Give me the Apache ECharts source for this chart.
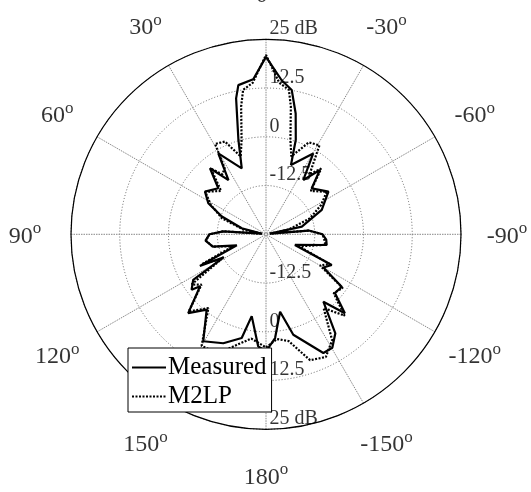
<!DOCTYPE html>
<html>
<head>
<meta charset="utf-8">
<script src="https://cdn.jsdelivr.net/npm/echarts@6/dist/echarts.min.js"></script>
<style>
  html, body { margin: 0; padding: 0; background: #fff; }
  #chart { width: 531px; height: 492px; }
</style>
</head>
<body>
<div id="chart"></div>
<script>
// Radiation pattern, angle in degrees (counter-clockwise from broadside), gain in dB
const measuredAngles = [-180, -175, -169.7, -164.8, -154.2, -149.7, -145, -139.6, -135, -130.4, -124.7, -120, -115, -110.2, -100, -95, -90, -85, -81,
  -77.9, -66.4, -55.6, -44.8, -40, -34.5, -30.3, -19.8, -17.5, -13.8, -10.1, -5.8, 0,
  4.7, 10.5, 12.4, 16.3, 20.2, 30.5, 34.7, 40.3, 46, 55, 61.7, 68, 76, 81,
  86, 90, 96, 103, 110.6, 115.6, 118.5, 122, 126.7, 128.2, 135.4, 141.8, 149.6, 158.6, 166.8, 170.1, 176, 180];
const measuredDb = [5, 1.7, -4.8, 1.7, 8.8, 8.7, 6, -2.3, 3.6, -1.8, -1.4, -8, -6.4, -17.1, -9.2, -9.5, -10.5, -14, -24,
  -15.6, -9.4, -5.6, -8.4, -3.5, -8.1, -1.0, -6.1, 0.4, 6.9, 12.6, 14.7, 20.5,
  14.9, 13.9, 10.7, 0.2, -7.0, -0.9, -8.1, -2.8, -8.0, -5.9, -8.2, -12.8, -18.6, -24,
  -14, -10.5, -9.4, -11, -17, -6.2, -12.7, -3, -1.2, -3.5, 3.4, -0.4, 6.8, 5.0, 2.3, -3.7, 3.8, 5];

const m2lpAngles = [-180, -174, -168, -160.7, -154, -148, -142, -136, -131, -125, -120, -115, -110, -100, -95, -90, -85, -81,
  -78, -70, -62, -55, -46, -40, -36, -31, -25, -18, -14.5, -11, -9, -5, 0,
  5, 9, 11, 14.5, 18, 23.9, 29.4, 32, 36, 40, 46, 55, 62, 70, 78, 81,
  86, 90, 96, 103, 110, 115, 119, 124, 128, 135, 142, 150, 158, 166, 172, 180];
const m2lpDb = [4, 2, 3, 9.2, 10, 7, -1, 4, -2, -1, -9, -7, -16, -9.5, -10, -10.5, -14, -24,
  -19, -13, -9, -6, -9, -3, -6, 1.6, 1.0, -4, 0, 8.4, 12.5, 14, 21,
  14, 12.5, 8.4, 0, -4, 1.0, 1.6, -5, -6, -3, -9, -6, -9, -13, -19, -24,
  -14, -10.5, -9.5, -11, -16, -7, -12, -2, -4, 3, -1, 8, 8, 4, 2, 4];

// Tick labels
const angleTicks = [0, 30, 60, 90, 120, 150, 180, -150, -120, -90, -60, -30];
const radiusTicks = [-12.5, 0, 12.5, 25];

const FONT = 'Liberation Serif';
const CENTER = [266, 234.3];

const toPairs = (angles, values) => angles.map((a, i) => [values[i], a]);

const radiusLabelData = [];
radiusTicks.forEach(v => { radiusLabelData.push([v, 0]); radiusLabelData.push([v, 180]); });

const chart = echarts.init(document.getElementById('chart'), null, { renderer: 'canvas' });

chart.setOption({
  animation: false,
  backgroundColor: '#fff',
  polar: [
    { center: CENTER, radius: 195 },
    { center: CENTER, radius: 241 }
  ],
  angleAxis: [
    {
      polarIndex: 0, type: 'value', min: 0, max: 360, interval: 30,
      startAngle: 90, clockwise: false,
      axisLine: { lineStyle: { color: '#000', width: 1.2 } },
      axisTick: { show: false },
      axisLabel: { show: false },
      splitLine: { lineStyle: { color: '#888', width: 1, type: [1.5, 1] } }
    },
    {
      polarIndex: 1, type: 'value', min: 0, max: 360, startAngle: 90, clockwise: false,
      show: false
    }
  ],
  radiusAxis: [
    {
      polarIndex: 0, min: -25, max: 25, interval: 12.5,
      axisLine: { show: false }, axisTick: { show: false }, axisLabel: { show: false },
      splitLine: { lineStyle: { color: '#666', width: 1, type: [1, 2] } }
    },
    { polarIndex: 1, min: 0, max: 1, show: false }
  ],
  legend: {
    data: ['Measured', 'M2LP'],
    orient: 'vertical',
    left: 128, top: 348,
    padding: [7, 5, 3, 3],
    itemGap: 4,
    itemWidth: 34, itemHeight: 14,
    backgroundColor: '#fff',
    borderColor: '#000', borderWidth: 1, borderRadius: 0,
    itemStyle: { color: 'transparent', opacity: 0, borderWidth: 0 },
    textStyle: { fontFamily: FONT, fontSize: 25, color: '#000', padding: [0, 0, 0, -3] }
  },
  series: [
    {
      name: 'Measured', type: 'line', coordinateSystem: 'polar', polarIndex: 0,
      data: toPairs(measuredAngles, measuredDb),
      symbol: 'none', smooth: false, clip: false,
      lineStyle: { color: '#000', width: 2.2, type: 'solid' },
      itemStyle: { color: '#000' }, z: 3
    },
    {
      name: 'M2LP', type: 'line', coordinateSystem: 'polar', polarIndex: 0,
      data: toPairs(m2lpAngles, m2lpDb),
      symbol: 'none', smooth: false, clip: false,
      lineStyle: { color: '#000', width: 2.2, type: [2, 1.5] },
      itemStyle: { color: '#000' }, z: 3
    },
    {
      name: 'radiusLabels', type: 'scatter', coordinateSystem: 'polar', polarIndex: 0,
      data: radiusLabelData, symbolSize: 1, itemStyle: { color: 'transparent' },
      silent: true, z: 2,
      label: {
        show: true, position: 'right', distance: 3, offset: [0, -10.5],
        fontFamily: FONT, fontSize: 20, color: '#000',
        formatter: p => (p.value[0] === 25 ? '25 dB' : String(p.value[0]))
      }
    },
    {
      name: 'angleLabels', type: 'scatter', coordinateSystem: 'polar', polarIndex: 1,
      data: angleTicks.map(a => [1, a]), symbolSize: 1, itemStyle: { color: 'transparent' },
      silent: true,
      label: {
        show: true, position: 'inside',
        formatter: p => '{n|' + p.value[1] + '}{s|o}',
        rich: {
          n: { fontFamily: FONT, fontSize: 24, color: '#000', lineHeight: 28, verticalAlign: 'bottom' },
          s: { fontFamily: FONT, fontSize: 17, color: '#000', lineHeight: 14, verticalAlign: 'top' }
        }
      }
    }
  ]
});
</script>
</body>
</html>
